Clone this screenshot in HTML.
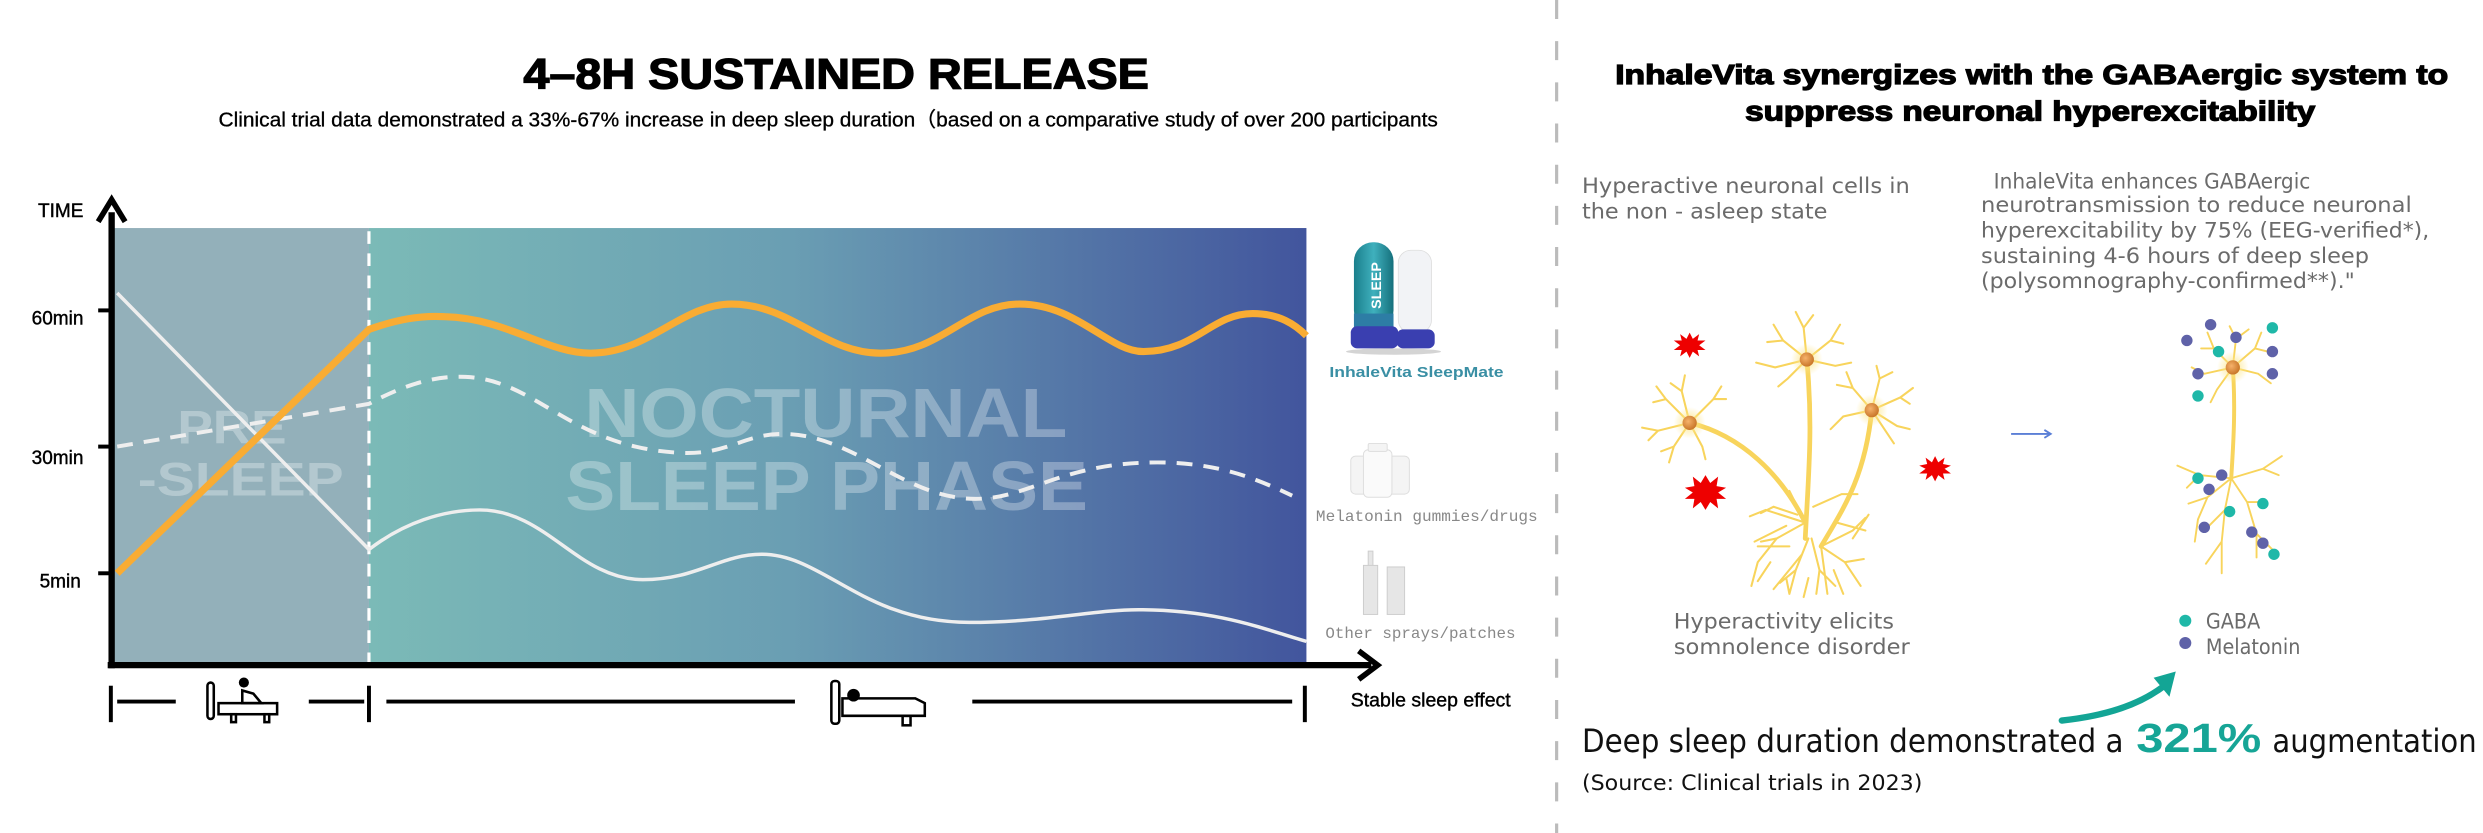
<!DOCTYPE html>
<html><head><meta charset="utf-8"><style>
html,body{margin:0;padding:0;background:#fff;}
svg{display:block;}
</style></head><body>
<svg width="2483" height="833" viewBox="0 0 1568 526" preserveAspectRatio="none" xmlns="http://www.w3.org/2000/svg">
<defs>
<linearGradient id="g1" x1="0" x2="1" y1="0" y2="0">
<stop offset="0" stop-color="#7bbab7"/>
<stop offset="0.45" stop-color="#6a9eb3"/>
<stop offset="1" stop-color="#42559d"/>
</linearGradient>
<radialGradient id="soma" cx="0.4" cy="0.4" r="0.6"><stop offset="0" stop-color="#f6b26b"/><stop offset="1" stop-color="#c9772a"/></radialGradient>
<radialGradient id="halo"><stop offset="0" stop-color="#fde68a"/><stop offset="1" stop-color="#fde68a" stop-opacity="0"/></radialGradient>
<linearGradient id="tb" x1="0" x2="1"><stop offset="0" stop-color="#1a7f8c"/><stop offset="0.5" stop-color="#3fb0bd"/><stop offset="1" stop-color="#16707c"/></linearGradient>
</defs>
<rect width="1568" height="526" fill="#fff"/>

<!-- Titles left -->
<text x="528" y="56" text-anchor="middle" font-family="Liberation Sans Narrow, Liberation Sans, sans-serif" font-weight="bold" font-size="27" stroke="#000" stroke-width="0.8" textLength="395" lengthAdjust="spacingAndGlyphs">4–8H SUSTAINED RELEASE</text>
<text x="523" y="80" text-anchor="middle" font-family="Liberation Sans Narrow, Liberation Sans, sans-serif" font-size="13" stroke="#000" stroke-width="0.2" textLength="770" lengthAdjust="spacingAndGlyphs">Clinical trial data demonstrated a 33%-67% increase in deep sleep duration（based on a comparative study of over 200 participants</text>

<!-- Plot areas -->
<rect x="72" y="144" width="161" height="275" fill="#93b0ba"/>
<rect x="233" y="144" width="592" height="275" fill="url(#g1)"/>
<line x1="233" y1="146" x2="233" y2="418" stroke="#fff" stroke-width="2" stroke-dasharray="8,6"/>

<!-- watermark text -->
<g fill="#fff" fill-opacity="0.3" font-family="Liberation Sans Narrow, Liberation Sans, sans-serif" font-weight="bold">
<text x="112" y="280" font-size="30" textLength="69" lengthAdjust="spacingAndGlyphs">PRE</text>
<text x="87" y="313" font-size="30" textLength="130" lengthAdjust="spacingAndGlyphs">-SLEEP</text>
<text x="369" y="276" font-size="44" textLength="305" lengthAdjust="spacingAndGlyphs">NOCTURNAL</text>
<text x="357" y="322" font-size="44" textLength="330" lengthAdjust="spacingAndGlyphs">SLEEP PHASE</text>
</g>

<!-- curves -->
<path d="M74,185 L233,347 C255,330 280,322 303,322 C345,322 365,366 406,366 C440,366 455,350 481,350 C520,350 545,393 612,393 C660,393 690,385 719,385 C770,385 800,398 825,405" fill="none" stroke="#eeeeee" stroke-width="2.2"/>
<path d="M74,282 L233,255 C255,243 275,237 294,238 C340,240 360,283 431,286 C460,287 470,274 494,274 C540,274 570,315 616,315 C650,315 670,292 731,292 C770,292 795,303 816,313" fill="none" stroke="#eeeeee" stroke-width="2.5" stroke-dasharray="10,7"/>
<path d="M74,362 L233,208 C250,202 265,199 281,200 C320,201 345,223 373,223 C410,223 430,192 462,192 C500,192 520,223 556,223 C595,223 610,192 644,192 C680,192 700,222 722,222 C755,222 765,198 791,198 C808,198 818,205 825,212" fill="none" stroke="#f9ac33" stroke-width="4.5" stroke-linejoin="round"/>

<!-- axes -->
<line x1="70.5" y1="134" x2="70.5" y2="422" stroke="#000" stroke-width="4"/>
<path d="M62,140 L70.5,126 L79,140" fill="none" stroke="#000" stroke-width="3.5"/>
<line x1="68" y1="420" x2="866" y2="420" stroke="#000" stroke-width="4"/>
<path d="M858,411 L870,420 L858,429" fill="none" stroke="#000" stroke-width="3.5"/>
<g stroke="#000" stroke-width="2.5"><line x1="62" y1="196" x2="70" y2="196"/><line x1="62" y1="282" x2="70" y2="282"/><line x1="62" y1="362" x2="70" y2="362"/></g>
<g font-family="Liberation Sans Narrow, Liberation Sans, sans-serif" font-size="12" stroke="#000" stroke-width="0.25">
<text x="24" y="137">TIME</text>
<text x="20" y="205">60min</text>
<text x="20" y="293">30min</text>
<text x="25" y="371">5min</text>
<text x="853" y="446" font-size="12.5" textLength="101" lengthAdjust="spacingAndGlyphs">Stable sleep effect</text>
</g>

<!-- timeline -->
<g stroke="#000" stroke-width="2.5">
<line x1="70" y1="433" x2="70" y2="456"/><line x1="233" y1="433" x2="233" y2="456"/><line x1="824" y1="433" x2="824" y2="456"/>
<line x1="74" y1="443" x2="111" y2="443"/><line x1="195" y1="443" x2="230" y2="443"/><line x1="244" y1="443" x2="502" y2="443"/><line x1="614" y1="443" x2="816" y2="443"/>
</g>
<g fill="none" stroke="#000" stroke-width="1.6">
<rect x="131" y="431" width="4" height="23" rx="2"/>
<rect x="138" y="444" width="37" height="7"/>
<rect x="146" y="451" width="3" height="5"/><rect x="167" y="451" width="3" height="5"/>
<path d="M153,436 L153,444 L165,444 L160,438 Z"/>
</g>
<circle cx="154" cy="431" r="3.2" fill="#000"/>
<g fill="none" stroke="#000" stroke-width="1.6">
<rect x="525" y="430" width="5" height="27" rx="2"/>
<path d="M532,441 L578,441 L584,444 L584,452 L532,452 Z"/>
<rect x="570" y="452" width="5" height="6"/>
</g>
<circle cx="539" cy="439" r="4" fill="#000"/>

<!-- products -->
<ellipse cx="880" cy="222" rx="30" ry="2" fill="#aaa" opacity="0.5"/>
<rect x="855" y="153" width="25" height="55" rx="12" fill="url(#tb)"/>
<rect x="855" y="198" width="25" height="10" fill="#2d7da5"/>
<rect x="853" y="206" width="30" height="14" rx="4" fill="#3a3fb0"/>
<text x="872" y="195" transform="rotate(-90 872 195)" font-family="Liberation Sans, sans-serif" font-weight="bold" font-size="9" fill="#fff">SLEEP</text>
<rect x="883" y="158" width="21" height="52" rx="8" fill="#f2f3f6" stroke="#ddd" stroke-width="0.5"/>
<rect x="882" y="208" width="24" height="12" rx="4" fill="#3a3fb0"/>
<text x="894.5" y="238" text-anchor="middle" font-family="Liberation Sans, sans-serif" font-weight="bold" font-size="9.5" fill="#3a8fa4" textLength="110" lengthAdjust="spacingAndGlyphs">InhaleVita SleepMate</text>

<g fill="#f4f4f4" stroke="#ddd" stroke-width="0.6">
<rect x="853" y="288" width="14" height="24" rx="3"/><rect x="876" y="288" width="14" height="24" rx="3"/>
<rect x="861" y="284" width="18" height="30" rx="3" fill="#fafafa"/>
<rect x="864" y="280" width="12" height="5" rx="1"/>
</g>
<text x="831" y="329" font-family="Liberation Mono, monospace" font-size="10" fill="#888" textLength="140" lengthAdjust="spacingAndGlyphs">Melatonin gummies/drugs</text>
<g fill="#e6e6e6" stroke="#ccc" stroke-width="0.6">
<rect x="864" y="348" width="3" height="10"/>
<rect x="861" y="357" width="9" height="31"/>
<rect x="876" y="358" width="11" height="30"/>
</g>
<text x="837" y="403" font-family="Liberation Mono, monospace" font-size="10" fill="#888" textLength="120" lengthAdjust="spacingAndGlyphs">Other sprays/patches</text>

<!-- divider -->
<line x1="983" y1="0" x2="983" y2="526" stroke="#bbb" stroke-width="2" stroke-dasharray="12,14"/>

<!-- right titles -->
<g font-family="Liberation Sans, sans-serif" font-weight="bold" font-size="17.5" text-anchor="middle" stroke="#000" stroke-width="0.8">
<text x="1283" y="53" textLength="526" lengthAdjust="spacingAndGlyphs">InhaleVita synergizes with the GABAergic system to</text>
<text x="1282" y="76" textLength="360" lengthAdjust="spacingAndGlyphs">suppress neuronal hyperexcitability</text>
</g>
<g font-family="DejaVu Sans Condensed, DejaVu Sans, sans-serif" font-size="13.5" fill="#6b6b6b">
<text x="999" y="122" textLength="207" lengthAdjust="spacingAndGlyphs">Hyperactive neuronal cells in</text>
<text x="999" y="138" textLength="155" lengthAdjust="spacingAndGlyphs">the non - asleep state</text>
<text x="1259" y="119" textLength="200" lengthAdjust="spacingAndGlyphs">InhaleVita enhances GABAergic</text>
<text x="1251" y="134" textLength="272" lengthAdjust="spacingAndGlyphs">neurotransmission to reduce neuronal</text>
<text x="1251" y="150" textLength="283" lengthAdjust="spacingAndGlyphs">hyperexcitability by 75% (EEG-verified*),</text>
<text x="1251" y="166" textLength="245" lengthAdjust="spacingAndGlyphs">sustaining 4-6 hours of deep sleep</text>
<text x="1251" y="182" textLength="236" lengthAdjust="spacingAndGlyphs">(polysomnography-confirmed**)."</text>
<text x="1057" y="397" textLength="139" lengthAdjust="spacingAndGlyphs">Hyperactivity elicits</text>
<text x="1057" y="413" textLength="149" lengthAdjust="spacingAndGlyphs">somnolence disorder</text>
<text x="1393" y="397">GABA</text>
<text x="1393" y="413">Melatonin</text>
</g>
<circle cx="1380" cy="392" r="3.8" fill="#1fb8a8"/>
<circle cx="1380" cy="406" r="3.8" fill="#5f62a8"/>

<!-- left neurons -->
<g fill="none" stroke="#f8d45c" stroke-linecap="round">
<path d="M1067,267 C1100,275 1125,300 1140,330 M1141,227 C1145,270 1142,300 1140,340 M1182,259 C1178,300 1165,320 1150,345" stroke-width="3"/>
<g stroke-width="1.3">
<path d="M1067,267 l-15,-15 l-6,-8 M1052,252 l-8,2 M1067,267 l-5,-20 l2,-10 M1062,247 l-7,-5 M1067,267 l15,-15 l5,-8 M1082,252 l8,0 M1067,267 l-20,5 l-10,-2 M1047,272 l-6,6 M1067,267 l-10,15 l-3,10 M1057,282 l-8,3 M1067,267 l8,15 l2,8"/>
<path d="M1141,227 l-15,-12 l-6,-10 M1126,215 l-10,1 M1141,227 l-2,-20 l-5,-10 M1139,207 l6,-8 M1141,227 l15,-12 l6,-10 M1156,215 l8,2 M1141,227 l-20,5 l-12,-3 M1141,227 l18,4 l10,-2 M1141,227 l-12,12 l-6,5"/>
<path d="M1182,259 l-12,-14 l-4,-10 M1170,245 l-10,-2 M1182,259 l5,-20 l-2,-8 M1187,239 l8,-4 M1182,259 l18,-8 l8,-6 M1200,251 l6,4 M1182,259 l16,10 l8,2 M1182,259 l-18,4 l-8,8 M1182,259 l10,15 l4,6"/>
<path d="M1140,330 l-25,-8 l-10,4 M1140,330 l-18,10 l-12,15 l-4,15 M1122,340 l-10,2 M1142,340 l-8,20 l-4,15 M1134,360 l-10,8 M1144,340 l5,20 l-2,15 M1149,360 l10,10 M1150,345 l15,10 l10,15 M1165,355 l12,-2 M1150,345 l20,-10 l8,-8 M1140,330 l-10,-20 M1130,345 l-20,0 M1150,345 l4,30 M1138,350 l-18,22 M1135,325 l-15,-5 l-8,4 M1145,320 l18,-8 l10,0 M1160,330 l18,5 M1118,355 l-8,12 M1128,365 l2,10 M1158,360 l6,15 M1142,365 l-3,12 M1170,340 l10,-15 M1128,332 l-20,10"/>
</g></g>
<g>
<circle cx="1067" cy="267" r="10" fill="url(#halo)"/><circle cx="1067" cy="267" r="4.5" fill="url(#soma)"/>
<circle cx="1141" cy="227" r="10" fill="url(#halo)"/><circle cx="1141" cy="227" r="4.5" fill="url(#soma)"/>
<circle cx="1182" cy="259" r="10" fill="url(#halo)"/><circle cx="1182" cy="259" r="4.5" fill="url(#soma)"/>
</g>
<g fill="#ee0000">
<polygon points="1067,210 1069,214 1073,211 1072,215 1077,215 1073,218 1077,221 1072,221 1073,225 1069,222 1067,226 1065,222 1061,225 1062,221 1057,221 1061,218 1057,215 1062,215 1061,211 1065,214"/>
<polygon points="1077,300 1080,305 1085,301 1084,307 1090,308 1085,311 1090,315 1084,315 1085,321 1080,317 1077,322 1074,317 1069,321 1070,315 1064,315 1069,311 1064,308 1070,307 1069,301 1074,305"/>
<polygon points="1222,288 1224,292 1228,289 1227,293 1232,294 1228,296 1232,299 1227,299 1228,303 1224,300 1222,304 1220,300 1216,303 1217,299 1212,299 1216,296 1212,294 1217,293 1216,289 1220,292"/>
</g>
<line x1="1270" y1="274" x2="1295" y2="274" stroke="#5b7fd6" stroke-width="1.2"/>
<path d="M1291,271.5 L1295,274 L1291,276.5" fill="none" stroke="#5b7fd6" stroke-width="1.2"/>

<!-- right neuron -->
<g fill="none" stroke="#f8d45c" stroke-linecap="round">
<path d="M1410,232 C1412,260 1410,285 1409,302" stroke-width="2.5"/>
<g stroke-width="1.2">
<path d="M1410,232 l-12,-12 l-4,-10 M1398,220 l-8,0 M1410,232 l2,-18 l-4,-8 M1412,214 l8,-6 M1410,232 l14,-12 l4,-10 M1424,220 l8,2 M1410,232 l-18,4 l-8,-4 M1410,232 l16,4 l8,6 M1410,232 l-10,14 l-4,8"/>
<path d="M1409,302 l-20,-2 l-14,-6 M1389,300 l-8,8 M1409,302 l-15,12 l-6,14 l-2,14 M1394,314 l-12,4 M1409,302 l-4,20 l-2,20 l0,20 M1405,322 l-10,10 M1409,302 l10,15 l6,20 l0,15 M1419,317 l10,0 M1409,302 l20,-6 l12,-8 M1429,296 l10,4 M1425,337 l10,10 M1403,342 l-10,14"/>
</g></g>
<circle cx="1410" cy="232" r="10" fill="url(#halo)"/><circle cx="1410" cy="232" r="4.5" fill="url(#soma)"/>
<g fill="#1fb8a8">
<circle cx="1435" cy="207" r="3.6"/><circle cx="1401" cy="222" r="3.6"/><circle cx="1388" cy="250" r="3.6"/><circle cx="1388" cy="302" r="3.6"/><circle cx="1408" cy="323" r="3.6"/><circle cx="1429" cy="318" r="3.6"/><circle cx="1436" cy="350" r="3.6"/>
</g>
<g fill="#5f62a8">
<circle cx="1396" cy="205" r="3.6"/><circle cx="1381" cy="215" r="3.6"/><circle cx="1412" cy="213" r="3.6"/><circle cx="1435" cy="222" r="3.6"/><circle cx="1388" cy="236" r="3.6"/><circle cx="1435" cy="236" r="3.6"/><circle cx="1403" cy="300" r="3.6"/><circle cx="1395" cy="309" r="3.6"/><circle cx="1392" cy="333" r="3.6"/><circle cx="1422" cy="336" r="3.6"/><circle cx="1429" cy="343" r="3.6"/>
</g>

<!-- teal arrow -->
<path d="M1302,455 C1330,452 1352,445 1368,432" fill="none" stroke="#13a595" stroke-width="4" stroke-linecap="round"/>
<polygon points="1374,424 1370,440 1360,428" fill="#13a595"/>

<!-- bottom statement -->
<text x="999" y="475" font-family="DejaVu Sans Condensed, DejaVu Sans, sans-serif" font-size="20" fill="#111" textLength="342" lengthAdjust="spacingAndGlyphs">Deep sleep duration demonstrated a</text>
<text x="1349" y="475" font-family="Liberation Sans, sans-serif" font-weight="bold" font-size="26" fill="#16a596" textLength="79" lengthAdjust="spacingAndGlyphs">321%</text>
<text x="1435" y="475" font-family="DejaVu Sans Condensed, DejaVu Sans, sans-serif" font-size="20" fill="#111" textLength="129" lengthAdjust="spacingAndGlyphs">augmentation</text>
<text x="999" y="499" font-family="DejaVu Sans Condensed, DejaVu Sans, sans-serif" font-size="13.5" fill="#111" textLength="215" lengthAdjust="spacingAndGlyphs">(Source: Clinical trials in 2023)</text>
</svg>
</body></html>
